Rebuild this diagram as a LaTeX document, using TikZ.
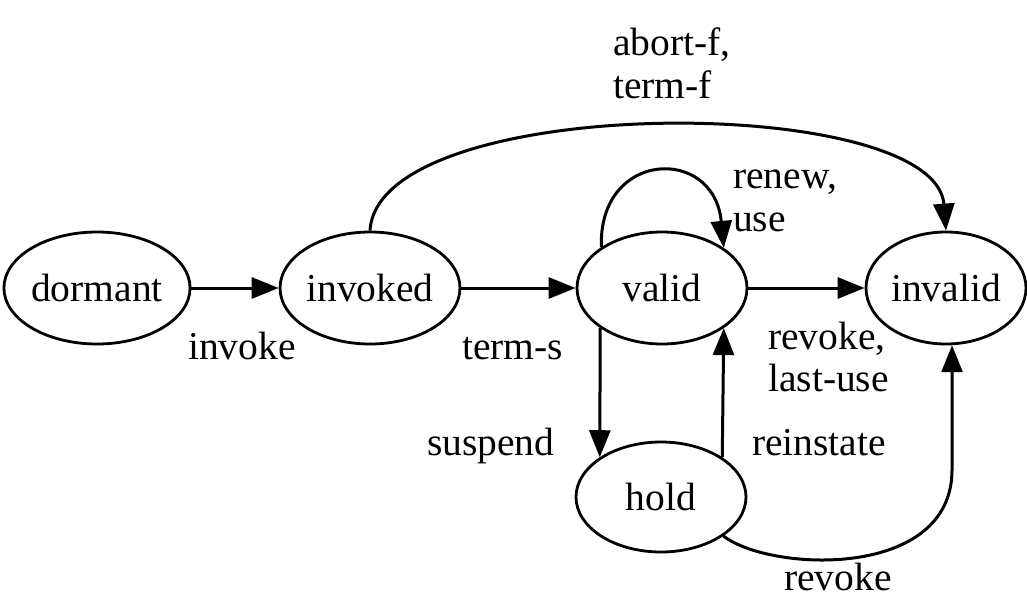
\documentclass[tikz,border=0pt]{standalone}
\usepackage{fontspec}
\setmainfont{Liberation Serif}
\usetikzlibrary{arrows.meta,shapes.geometric}
\begin{document}
\begin{tikzpicture}[x=1pt,y=-1pt,
  state/.style={ellipse, draw, line width=2.8pt, minimum width=170pt,
    minimum height=112pt, inner sep=0pt, font=\fontsize{39.5}{42}\selectfont},
  lbl/.style={anchor=base west, inner sep=0pt, font=\fontsize{39.5}{42}\selectfont},
  arr/.style={line width=3pt, -{Triangle[length=27pt,width=21pt]}}]
\useasboundingbox (0,0) rectangle (1027,600);

% states
\node[state] (dormant) at (97,288) {dormant};
\node[state] (invoked) at (370,288) {invoked};
\node[state] (valid) at (662,288) {valid};
\node[state, minimum width=160pt] (invalid) at (946,288) {invalid};
\node[state, minimum height=110pt] (hold) at (661,497) {hold};

% transitions
\draw[arr] (dormant) -- (invoked);
\draw[arr] (invoked) -- (valid);
\draw[arr] (valid) -- (invalid);
\draw[arr] (valid.213) -- (hold.147);
\draw[arr] (hold.33) -- (valid.327);
\draw[arr] (valid.146) .. controls (598,150) and (714,145) .. (valid.33);
\draw[arr] (invoked.north) .. controls (378,92) and (935,92) .. (invalid.north);
\draw[arr] (hold.-32) .. controls (770,572) and (952,580) .. (952,470) -- (invalid.-84);

% transition labels
\node[lbl] (l-invoke) at (188,359) {invoke};
\node[lbl] (l-terms) at (462,359) {term-s};
\node[lbl] (l-revoke1) at (768,349) {revoke,};
\node[lbl] (l-lastuse) at (768,391) {last-use};
\node[lbl] (l-suspend) at (427,455) {suspend};
\node[lbl] (l-reinstate) at (752,455) {reinstate};
\node[lbl] (l-revoke2) at (784,590) {revoke};
\node[lbl] (l-renew) at (733,188) {renew,};
\node[lbl] (l-use) at (733,231) {use};
\node[lbl] (l-abort) at (613,55) {abort-f,};
\node[lbl] (l-termf) at (613,98) {term-f};
\end{tikzpicture}
\end{document}
